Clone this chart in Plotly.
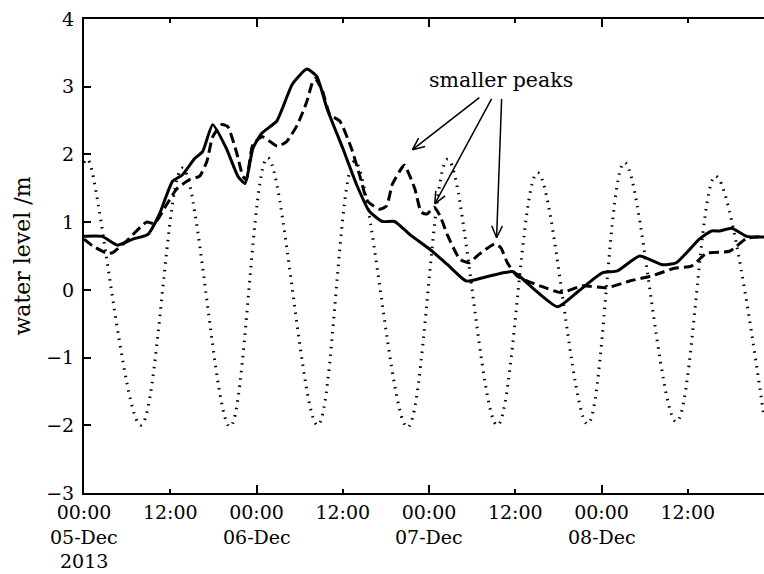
import math
import plotly.graph_objects as go

# ---- data (hours after 05-Dec-2013 00:00, water level in m) ----
hours_obs = [0, 2.5, 4.7, 6.8, 8.9, 10.5, 12.3, 13.7, 15.4, 16.5, 17.9, 19.8, 21.4, 22.4,
             23.5, 24.7, 26.8, 27.6, 29.0, 31.0, 32.4, 33.8, 36.0, 37.9, 39.7, 41.5, 43.2,
             45.3, 48.1, 50.5, 53.2, 55.5, 58.2, 59.6, 60.6, 62.4, 65.9, 68.9, 72.1, 74.2,
             77.3, 80.5, 82.4, 85.6, 87.3, 88.4, 90.1, 92.2, 94.6]
level_obs = [0.79, 0.79, 0.66, 0.75, 0.82, 1.12, 1.6, 1.7, 1.94, 2.04, 2.44, 2.09, 1.68, 1.57,
             2.09, 2.31, 2.49, 2.68, 3.04, 3.26, 3.15, 2.68, 2.09, 1.56, 1.16, 1.01, 1.01,
             0.82, 0.6, 0.38, 0.13, 0.18, 0.25, 0.27, 0.2, 0.03, -0.25, -0.01, 0.25, 0.28,
             0.5, 0.37, 0.4, 0.75, 0.87, 0.87, 0.91, 0.79, 0.78]

hours_model = [0, 1.2, 3.2, 4.0, 5.9, 8.7, 9.8, 11.5, 12.9, 14.7, 16.1, 17.1, 17.9, 19.15,
               20.0, 21.2, 22.1, 22.6, 23.5, 24.85, 26.9, 28.2, 29.7, 31.0, 31.8, 32.2, 33.2,
               34.2, 35.6, 37.2, 38.3, 39.45, 41.1, 42.1, 42.9, 44.2, 44.6, 46.0, 46.9, 47.7,
               48.7, 49.5, 50.6, 52.3, 53.6, 54.9, 57.2, 58.0, 58.9, 60.3, 63.4, 66.4, 69.4,
               72.7, 75.9, 79.1, 82.15, 84.5, 86.6, 89.8, 92.2, 94.6]
level_model = [0.75, 0.65, 0.54, 0.55, 0.72, 1.0, 0.98, 1.26, 1.49, 1.63, 1.68, 1.9, 2.26, 2.44,
               2.41, 2.04, 1.68, 1.63, 2.15, 2.26, 2.12, 2.19, 2.44, 2.78, 3.07, 3.12, 2.93,
               2.59, 2.49, 2.09, 1.71, 1.31, 1.19, 1.24, 1.56, 1.8, 1.84, 1.5, 1.15, 1.12,
               1.22, 1.1, 0.8, 0.45, 0.4, 0.52, 0.68, 0.62, 0.4, 0.2, 0.06, -0.04, 0.06,
               0.03, 0.13, 0.21, 0.32, 0.35, 0.54, 0.57, 0.76, 0.79]

hours_tide = [0, 0.5, 7.9, 13.7, 20.3, 25.55, 32.5, 37.65, 45.0, 50.6, 57.5, 63.1, 70.05,
              75.2, 82.4, 87.85, 94.6]
level_tide = [1.88, 1.93, -2.0, 1.8, -2.02, 1.95, -2.0, 1.9, -2.03, 1.93, -2.0, 1.73, -1.98,
              1.88, -1.95, 1.68, -1.88]

tick_hours = [0, 12, 24, 36, 48, 60, 72, 84]
tick_labels = ["00:00", "12:00", "00:00", "12:00", "00:00", "12:00", "00:00", "12:00"]
day_hours = [0, 24, 48, 72]
day_labels = ["05-Dec", "06-Dec", "07-Dec", "08-Dec"]
year_label = "2013"
y_ticks = [-3, -2, -1, 0, 1, 2, 3, 4]
y_labels = ["\u22123", "\u22122", "\u22121", "0", "1", "2", "3", "4"]

note_text = "smaller peaks"
note_pos = (57.95, 3.1)
arrow_tails = [(55.0, 2.84), (56.7, 2.82), (58.1, 2.82)]
arrow_tips = [(45.7, 2.07), (48.8, 1.27), (57.4, 0.77)]

X_RANGE = [0, 94.6]
Y_RANGE = [-3, 4]
W, H = 764, 574
ML, MR, MT, MB = 84, 0, 19, 81
FONT = "DejaVu Serif"
FS = 19

fig = go.Figure()
fig.add_trace(go.Scatter(x=hours_tide, y=level_tide, mode="lines",
                         line=dict(color="black", width=3, dash="1.5px,6px", shape="spline", smoothing=1),
                         showlegend=False, hoverinfo="skip"))
fig.add_trace(go.Scatter(x=hours_model, y=level_model, mode="lines",
                         line=dict(color="black", width=3, dash="10px,5px", shape="spline", smoothing=0.5),
                         showlegend=False, hoverinfo="skip"))
fig.add_trace(go.Scatter(x=hours_obs, y=level_obs, mode="lines",
                         line=dict(color="black", width=3, shape="spline", smoothing=0.5),
                         showlegend=False, hoverinfo="skip"))
# invisible helper trace for the secondary (day-tick) axis
fig.add_trace(go.Scatter(x=[0], y=[0], xaxis="x2", mode="markers",
                         marker=dict(opacity=0), showlegend=False, hoverinfo="skip"))

# arrows for annotation
sx = (W - ML - MR) / (X_RANGE[1] - X_RANGE[0])
sy = (H - MT - MB) / (Y_RANGE[1] - Y_RANGE[0])
shapes = []
for (th, tv), (hh, hv) in zip(arrow_tails, arrow_tips):
    shapes.append(dict(type="line", xref="x", yref="y", x0=th, y0=tv, x1=hh, y1=hv,
                       line=dict(color="black", width=1.5)))
    dx = (th - hh) * sx
    dy = (tv - hv) * sy
    n = math.hypot(dx, dy)
    ux, uy = dx / n, dy / n
    L = 13
    for ang in (0.42, -0.42):
        rx = ux * math.cos(ang) - uy * math.sin(ang)
        ry = ux * math.sin(ang) + uy * math.cos(ang)
        shapes.append(dict(type="line", xref="x", yref="y", x0=hh, y0=hv,
                           x1=hh + L * rx / sx, y1=hv + L * ry / sy,
                           line=dict(color="black", width=1.5)))

annotations = [dict(x=note_pos[0], y=note_pos[1], xref="x", yref="y", text=note_text,
                    showarrow=False, font=dict(family=FONT, size=20.5, color="black"))]
for h, lab in zip(day_hours, day_labels):
    annotations.append(dict(x=h, y=0, xref="x", yref="paper", text=lab, showarrow=False,
                            yanchor="middle", yshift=-44,
                            font=dict(family=FONT, size=FS, color="black")))
annotations.append(dict(x=day_hours[0], y=0, xref="x", yref="paper", text=year_label,
                        showarrow=False, yanchor="middle", yshift=-68,
                        font=dict(family=FONT, size=FS, color="black")))

fig.update_layout(
    width=W, height=H,
    margin=dict(l=ML, r=MR, t=MT, b=MB),
    paper_bgcolor="white", plot_bgcolor="white",
    font=dict(family=FONT, size=FS, color="black"),
    shapes=shapes,
    annotations=annotations,
    xaxis=dict(range=X_RANGE, tickvals=tick_hours, ticktext=tick_labels,
               ticks="inside", ticklen=4, tickwidth=1.5, tickcolor="black",
               showline=True, linewidth=2, linecolor="black", mirror="ticks",
               showgrid=False, zeroline=False, ticklabelstandoff=1,
               tickfont=dict(family=FONT, size=FS, color="black")),
    xaxis2=dict(range=X_RANGE, overlaying="x", anchor="y", side="bottom",
                tickvals=day_hours, ticks="inside", ticklen=8, tickwidth=1.5, tickcolor="black",
                showticklabels=False, showline=True, linewidth=2, linecolor="black",
                mirror="ticks", showgrid=False, zeroline=False),
    yaxis=dict(range=Y_RANGE, tickvals=y_ticks, ticktext=y_labels,
               ticks="inside", ticklen=7, tickwidth=1.5, tickcolor="black",
               showline=True, linewidth=2, linecolor="black", mirror=False,
               showgrid=False, zeroline=False, ticklabelstandoff=4,
               tickfont=dict(family=FONT, size=FS, color="black"),
               title=dict(text="water level /m", standoff=9,
                          font=dict(family=FONT, size=22, color="black"))),
)

fig.write_html("out.html")
